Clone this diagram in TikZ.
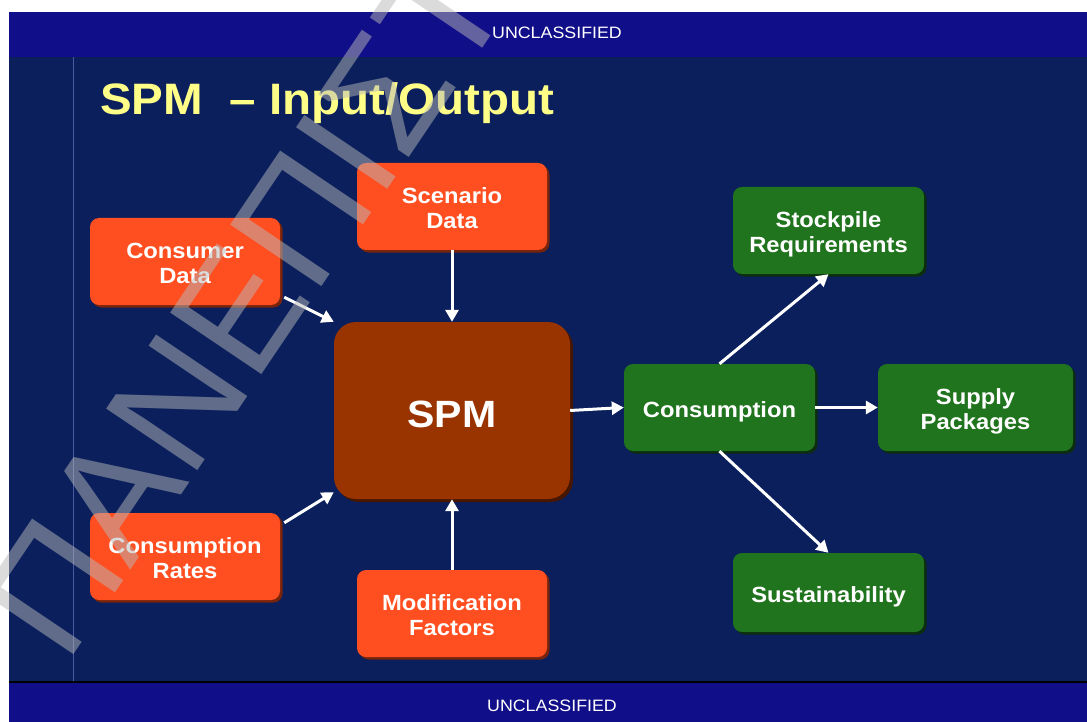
\documentclass[tikz,border=0pt]{standalone}
\usepackage{fontspec}
\setmainfont{Liberation Sans}[FakeStretch=1.08]
\newfontfamily\wmfont{Liberation Sans}
\usetikzlibrary{arrows.meta,shadows}

\definecolor{bannerblue}{RGB}{16,14,136}
\definecolor{slidebg}{RGB}{10,31,92}
\definecolor{rulecol}{RGB}{74,90,160}
\definecolor{titleyellow}{RGB}{255,255,136}
\definecolor{inorange}{RGB}{255,78,32}
\definecolor{inshadow}{RGB}{120,36,12}
\definecolor{spmbrown}{RGB}{153,51,0}
\definecolor{spmshadow}{RGB}{70,22,0}
\definecolor{outgreen}{RGB}{33,116,30}
\definecolor{outshadow}{RGB}{12,45,14}
\definecolor{wmgray}{RGB}{185,185,185}

% box label: centred lines on a 25pt grid, set a little below the middle
\newcommand\boxlabel[1]{\raisebox{-4.5pt}[\height][\depth]{%
  \begin{tabular}{@{}c@{}}#1\end{tabular}}}

\tikzset{
  boxtext/.style={text=white, inner sep=0pt,
    font=\fontsize{22}{25}\selectfont\bfseries},
  inbox/.style={boxtext, fill=inorange, rounded corners=9pt,
    minimum width=190pt, minimum height=87pt,
    drop shadow={shadow xshift=2.5pt, shadow yshift=-2.5pt, fill=inshadow, opacity=1}},
  outbox/.style={boxtext, fill=outgreen, rounded corners=9pt,
    minimum width=191pt, minimum height=87pt,
    drop shadow={shadow xshift=2.5pt, shadow yshift=-2.5pt, fill=outshadow, opacity=1}},
  corebox/.style={boxtext, fill=spmbrown, rounded corners=22pt,
    minimum width=236pt, minimum height=177pt,
    font=\fontsize{38}{38}\selectfont\bfseries,
    drop shadow={shadow xshift=3pt, shadow yshift=-3pt, fill=spmshadow, opacity=1}},
  arr/.style={draw=white, line width=3pt, -{Triangle[length=12pt,width=13pt]}},
  banner/.style={text=white, inner sep=0pt, font=\fontsize{16.5}{16.5}\selectfont},
}

\begin{document}
\begin{tikzpicture}[x=1pt,y=-1pt]
\useasboundingbox (0,0) rectangle (1087,722);
\fill[white] (0,0) rectangle (1087,722);

% slide background, banners and rules
\fill[bannerblue] (9,12) rectangle (1087,57);
\fill[slidebg] (9,57) rectangle (1087,681);
\fill[black] (9,681) rectangle (1087,683);
\fill[bannerblue] (9,683) rectangle (1087,722);
\draw[rulecol, line width=1.3pt] (73.5,57) -- (73.5,681);

\node[banner] (topmark) at (557,33.3) {UNCLASSIFIED};
\node[banner] (botmark) at (552,706) {UNCLASSIFIED};

% title
\node[anchor=base west, inner sep=0pt, text=titleyellow,
  font=\fontsize{44}{44}\selectfont\bfseries] (title) at (100,115)
  {SPM\ \ – Input/Output};

% inputs
\node[inbox] (consumer) at (185,261.5) {\boxlabel{Consumer\\Data}};
\node[inbox] (scenario) at (452,206.5) {\boxlabel{Scenario\\Data}};
\node[inbox] (rates) at (185,556.5) {\boxlabel{Consumption\\Rates}};
\node[inbox] (modif) at (452,613.5) {\boxlabel{Modification\\Factors}};

% model
\node[corebox] (spm) at (452,410.5) {\raisebox{-4pt}[\height][\depth]{SPM}};

% outputs
\node[outbox] (consumption) at (719.5,407.5) {\boxlabel{Consumption}};
\node[outbox] (stockpile) at (828.5,230.5) {\boxlabel{Stockpile\\Requirements}};
\node[outbox, minimum width=195pt] (supply) at (975.5,407.5) {\boxlabel{Supply\\Packages}};
\node[outbox, minimum height=79pt] (sustain) at (828.5,592.5) {\boxlabel{Sustainability}};

% flows
\draw[arr] ([shift={(4,-8)}]consumer.south east) -- (spm.north west);
\draw[arr] (scenario.south) -- (spm.north);
\draw[arr] ([shift={(4,10)}]rates.north east) -- ([shift={(0,-7)}]spm.south west);
\draw[arr] (modif.north) -- (spm.south);
\draw[arr] (spm.east) -- (consumption.west);
\draw[arr] (consumption.north) -- (stockpile.south);
\draw[arr] (consumption.east) -- (supply.west);
\draw[arr] (consumption.south) -- (sustain.north);

% watermark
\begin{scope}
\clip (0,0) rectangle (1087,722);
\node[rotate=56, anchor=base west, inner sep=0pt, text=wmgray, text opacity=0.5,
  font=\wmfont\fontsize{160}{160}\selectfont] (wm) at (66,666) {ΠΑΝΕΠΙΣΤ};
\end{scope}
\end{tikzpicture}
\end{document}
